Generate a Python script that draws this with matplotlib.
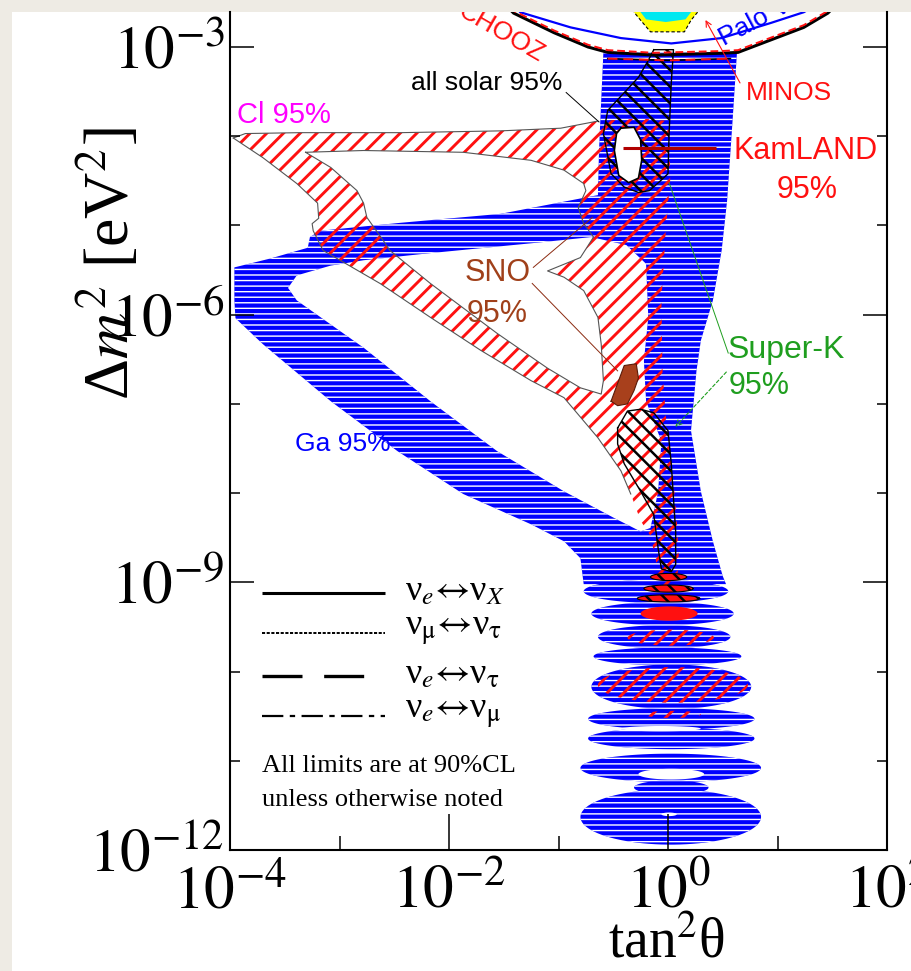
import numpy as np
import matplotlib
matplotlib.use('Agg')
import matplotlib.pyplot as plt
from matplotlib.path import Path
from matplotlib.patches import PathPatch, Rectangle
from matplotlib.ticker import FixedLocator, NullFormatter, FuncFormatter

plt.rcParams['font.family'] = ['Liberation Serif', 'DejaVu Serif']
plt.rcParams['mathtext.fontset'] = 'stix'
plt.rcParams['hatch.linewidth'] = 1.2

# ---------------- data: log10(tan^2 theta), log10(dm^2 / eV^2) ----------------
# Ga 95% (outer contour and inner hole)
ga_out_lt = [-0.59, 0.63, 0.59, 0.54, 0.49, 0.41, 0.30, 0.26, 0.21, 0.30, 0.41, 0.50, 0.53,
             -0.77, -0.80, -0.95, -1.25, -1.87, -2.47, -3.08, -3.70, -3.95, -3.96, -3.96,
             -3.63, -3.29, -3.27, -3.18, -2.44, -1.53, -0.64, -0.63, -0.61]
ga_out_ldm = [-3.06, -3.06, -3.82, -4.72, -5.28, -5.84, -6.29, -6.63, -7.30, -7.98, -8.54, -8.93, -9.02,
              -9.02, -8.73, -8.54, -8.35, -8.01, -7.53, -6.97, -6.33, -6.04, -5.84, -5.47,
              -5.37, -5.25, -5.13, -5.06, -4.97, -4.87, -4.66, -4.16, -3.60]
ga_hole_lt = [-0.70, -1.25, -2.17, -2.78, -3.08, -3.39, -3.47, -3.39, -2.78, -2.17, -1.56, -0.95,
              -0.49, -0.25, -0.16, -0.09, -0.06, -0.20, -0.22, -0.18, -0.20, -0.38]
ga_hole_ldm = [-5.13, -5.20, -5.31, -5.39, -5.45, -5.56, -5.70, -5.84, -6.37, -6.97, -7.53, -7.98,
               -8.28, -8.43, -8.39, -7.98, -7.42, -6.97, -6.52, -6.03, -5.43, -5.22]
# Ga lobes at small dm^2
lobe_ldm = [-9.10, -9.35, -9.61, -9.83, -10.17, -10.53, -10.75, -11.08, -11.30, -11.63]
lobe_hh = [0.13, 0.13, 0.13, 0.10, 0.25, 0.12, 0.12, 0.16, 0.08, 0.31]
lobe_lo = [-0.77, -0.70, -0.64, -0.68, -0.70, -0.73, -0.73, -0.80, -0.31, -0.80]
lobe_hi = [0.55, 0.60, 0.57, 0.67, 0.76, 0.79, 0.79, 0.85, 0.37, 0.85]
gap_ldm = [-10.64, -11.15, -11.60]
gap_hh = [0.03, 0.06, 0.02]
gap_lo = [-0.43, -0.27, -0.06]
gap_hi = [0.30, 0.33, 0.08]

# Cl 95%
cl_out_lt = [-3.97, -3.86, -3.36, -2.44, -1.53, -0.98, -0.64, -0.25, 0.01, 0.02, -0.02, -0.06, -0.05,
             -0.01, 0.05, 0.08, 0.10, 0.07, -0.08, -0.11, -0.16, -0.25, -0.34, -0.43, -0.64, -0.95,
             -1.25, -1.71, -2.17, -2.63, -3.15, -3.24, -3.25, -3.19, -3.20, -3.39, -3.70]
cl_out_ldm = [-4.02, -3.97, -3.96, -3.96, -3.94, -3.91, -3.83, -3.80, -3.83, -4.49, -5.06, -5.84, -6.63,
              -7.30, -7.87, -8.31, -8.76, -9.10, -9.10, -8.76, -8.48, -8.31, -8.01, -7.75, -7.38, -6.93,
              -6.74, -6.40, -6.03, -5.65, -5.28, -5.06, -4.98, -4.92, -4.75, -4.53, -4.24]
cl_hole_lt = [-3.31, -2.78, -1.87, -1.25, -0.95, -0.77, -0.75, -0.82, -0.77, -0.68, -0.80, -1.10, -0.95,
              -0.77, -0.64, -0.61, -0.59, -0.61, -0.80, -1.10, -1.56, -2.17, -2.54, -2.60, -2.75, -2.78,
              -2.84, -3.08]
cl_hole_ldm = [-4.18, -4.16, -4.18, -4.27, -4.38, -4.53, -4.61, -4.80, -4.98, -5.13, -5.36, -5.51, -5.58,
               -5.73, -6.03, -6.33, -6.74, -6.89, -6.82, -6.60, -6.21, -5.65, -5.28, -5.17, -4.91, -4.75,
               -4.61, -4.35]
red_ldm = [-9.62, -10.15, -10.48]
red_hh = [0.09, 0.20, 0.04]
red_lo = [-0.37, -0.64, -0.22]
red_hi = [0.42, 0.73, 0.30]
redfill_ldm = [-9.35]
redfill_hh = [0.08]
redfill_lo = [-0.25]
redfill_hi = [0.27]

# all solar 95%
sol_up_lt = [-0.13, 0.05, 0.03, 0.01, 0.00, -0.06, -0.17, -0.27, -0.40, -0.52, -0.59, -0.55, -0.27, -0.18]
sol_up_ldm = [-3.03, -3.03, -3.40, -3.97, -4.42, -4.49, -4.61, -4.63, -4.57, -4.42, -3.97, -3.71, -3.34, -3.15]
sol_lo_lt = [-0.46, -0.37, -0.25, -0.13, 0.00, 0.03, 0.05, 0.07, 0.07, 0.03, -0.06, -0.09, -0.13, -0.25,
             -0.40, -0.46]
sol_lo_ldm = [-7.27, -7.08, -7.06, -7.10, -7.30, -7.67, -8.06, -8.43, -8.80, -8.88, -8.85, -8.62, -8.24,
              -7.98, -7.67, -7.45]
sol_blob_ldm = [-8.94, -9.07, -9.18]
sol_blob_hh = [0.04, 0.04, 0.04]
sol_blob_lo = [-0.16, -0.22, -0.28]
sol_blob_hi = [0.17, 0.23, 0.29]
oval_lt = [-0.43, -0.31, -0.25, -0.24, -0.27, -0.36, -0.45, -0.49, -0.47]
oval_ldm = [-3.91, -3.90, -4.04, -4.27, -4.47, -4.52, -4.44, -4.16, -3.97]

# SNO 95%
sno_lt = [-0.52, -0.40, -0.29, -0.27, -0.31, -0.37, -0.46]
sno_ldm = [-6.97, -6.57, -6.55, -6.71, -6.85, -7.00, -7.02]

# KamLAND best-fit stroke
kam_lt = [-0.41, 0.44]
kam_ldm = [-4.13, -4.13]

# reactor / accelerator limits
chooz_lt = [-1.53, -1.41, -1.04, -0.73, -0.55, -0.13, 0.49, 0.64, 0.94, 1.24, 1.46, 1.58]
chooz_ldm = [-2.47, -2.62, -2.84, -3.00, -3.06, -3.09, -3.07, -3.06, -2.92, -2.78, -2.62, -2.47]
palo_lt = [-1.44, -1.35, -0.89, -0.43, 0.03, 0.49, 0.94, 1.24, 1.35]
palo_ldm = [-2.47, -2.61, -2.78, -2.90, -2.96, -2.90, -2.73, -2.61, -2.53]
minos_lt = [-0.55, 0.00, 0.57]
minos_ldm = [-3.13, -3.15, -3.13]
yel_lt = [-0.34, 0.30, 0.27, 0.21, 0.15, -0.16, -0.25, -0.31]
yel_ldm = [-2.47, -2.47, -2.61, -2.70, -2.83, -2.83, -2.70, -2.61]
cyan_lt = [-0.25, 0.21, 0.21, 0.16, -0.02, -0.20, -0.25]
cyan_ldm = [-2.47, -2.47, -2.61, -2.69, -2.72, -2.69, -2.61]

# label leader lines
solar_lead = ([-0.93, -0.63], [-3.51, -3.84])
sno_lead1 = ([-1.23, -0.69], [-5.47, -4.91])
sno_lead2 = ([-1.24, -0.46], [-5.65, -6.63])
superk_lead1 = ([0.55, 0.01], [-6.43, -4.52])
superk_arrow = ([0.55, 0.05], [-6.62, -7.28])
minos_arrow = ([0.67, 0.33], [-3.43, -2.67])

# legend
legend_labels = [r'ν$_e\!\leftrightarrow\!$ν$_X$',
                 r'ν$_{\mathrm{μ}}\!\leftrightarrow\!$ν$_{\mathrm{τ}}$',
                 r'ν$_e\!\leftrightarrow\!$ν$_{\mathrm{τ}}$',
                 r'ν$_e\!\leftrightarrow\!$ν$_{\mathrm{μ}}$']
x_ticks = [1e-4, 1e-2, 1e0, 1e2]
y_ticks = [1e-12, 1e-9, 1e-6, 1e-3]

# ---------------- helpers ----------------
def area(lt, ld):
    return 0.5 * np.sum(lt * np.roll(ld, -1) - np.roll(lt, -1) * ld)

def make_path(rings):
    verts, codes = [], []
    for i, (lt, ld) in enumerate(rings):
        lt = np.asarray(lt, float)
        ld = np.asarray(ld, float)
        if (i == 0) != (area(lt, ld) > 0):
            lt, ld = lt[::-1], ld[::-1]
        pts = np.column_stack((10 ** lt, 10 ** ld))
        verts.extend(pts)
        verts.append(pts[0])
        codes.extend([Path.MOVETO] + [Path.LINETO] * (len(pts) - 1) + [Path.CLOSEPOLY])
    return Path(np.array(verts), codes)

def ellipse(c, hh, lo, hi, n=90):
    t = np.linspace(0, 2 * np.pi, n, endpoint=False)
    return (lo + hi) / 2 + (hi - lo) / 2 * np.cos(t), c + hh * np.sin(t)

def region(rings, face, hcol, hatch, hlw, z):
    with plt.rc_context({'hatch.linewidth': hlw}):
        p = PathPatch(make_path(rings), facecolor=face, edgecolor=hcol, hatch=hatch, lw=0, zorder=z)
        if hasattr(p, 'set_hatch_linewidth'):
            p.set_hatch_linewidth(hlw)
    ax.add_patch(p)
    return p

def line(lt, ld, **kw):
    ax.plot(10 ** np.asarray(lt), 10 ** np.asarray(ld), **kw)

# ---------------- figure ----------------
fig = plt.figure(figsize=(9.12, 9.71), dpi=100, facecolor='#eeebe4')
fig.add_artist(Rectangle((12 / 912, 0), 1, (971 - 12) / 971, transform=fig.transFigure,
                         facecolor='white', edgecolor='none', zorder=-5))
ax = fig.add_axes([230 / 912, (971 - 850) / 971, (887 - 230) / 912, (850 - 12) / 971])
ax.set_xscale('log')
ax.set_yscale('log')
ax.set_xlim(1e-4, 1e2)
ax.set_ylim(1e-12, 10 ** (-3 + 35 / 89.2))
ax.set_facecolor('white')

BLUE = '#0000ff'
RED = '#ff1010'

# Ga
region([(ga_out_lt, ga_out_ldm), (ga_hole_lt, ga_hole_ldm)], BLUE, 'white', '---', 1.0, 1)
for c, h, lo, hi in zip(lobe_ldm, lobe_hh, lobe_lo, lobe_hi):
    region([ellipse(c, h, lo, hi)], BLUE, 'white', '---', 1.0, 1)
for c, h, lo, hi in zip(gap_ldm, gap_hh, gap_lo, gap_hi):
    region([ellipse(c, h, lo, hi)], 'white', 'white', None, 1.0, 1.2)

# Cl
region([(cl_out_lt, cl_out_ldm), (cl_hole_lt, cl_hole_ldm)], 'none', RED, '//', 2.1, 2)
line(cl_out_lt[:7], cl_out_ldm[:7], color='#555555', lw=0.8, zorder=2.1)
line(cl_out_lt[22:] + cl_out_lt[:1], cl_out_ldm[22:] + cl_out_ldm[:1], color='#555555', lw=0.8, zorder=2.1)
line(cl_hole_lt + cl_hole_lt[:1], cl_hole_ldm + cl_hole_ldm[:1], color='#555555', lw=0.8, zorder=2.1)
for c, h, lo, hi in zip(red_ldm, red_hh, red_lo, red_hi):
    region([ellipse(c, h, lo, hi)], 'none', RED, '//', 2.1, 2.2)
for c, h, lo, hi in zip(redfill_ldm, redfill_hh, redfill_lo, redfill_hi):
    region([ellipse(c, h, lo, hi)], RED, RED, None, 1.0, 2.3)

# all solar
for lt, ld in [(sol_up_lt, sol_up_ldm), (sol_lo_lt, sol_lo_ldm)]:
    region([(lt, ld)], 'none', 'black', '\\\\', 1.8, 3)
    line(list(lt) + [lt[0]], list(ld) + [ld[0]], color='black', lw=1.0, zorder=3.1)
for c, h, lo, hi in zip(sol_blob_ldm, sol_blob_hh, sol_blob_lo, sol_blob_hi):
    e = ellipse(c, h, lo, hi)
    region([e], RED, 'black', '\\\\', 1.8, 3)
    line(np.append(e[0], e[0][0]), np.append(e[1], e[1][0]), color='black', lw=0.8, zorder=3.1)
region([(oval_lt, oval_ldm)], 'white', 'white', None, 1.0, 3.5)
line(oval_lt + oval_lt[:1], oval_ldm + oval_ldm[:1], color='black', lw=1.2, zorder=3.6)

# SNO
region([(sno_lt, sno_ldm)], '#a8401c', '#a8401c', None, 1.0, 4)
line(sno_lt + sno_lt[:1], sno_ldm + sno_ldm[:1], color='#5a1a08', lw=0.8, zorder=4.1)

# KamLAND
line(kam_lt, kam_ldm, color='#b00000', lw=2.2, solid_capstyle='butt', zorder=4.2)

# top: reactor / accelerator
region([(yel_lt, yel_ldm)], '#ffff00', '#ffff00', None, 1.0, 4)
line(yel_lt[2:] + yel_lt[:1], yel_ldm[2:] + yel_ldm[:1], color='black', lw=0.8, ls=(0, (3, 2)), zorder=4.05)
region([(cyan_lt, cyan_ldm)], '#00e8f0', '#00e8f0', None, 1.0, 4.1)
line(palo_lt, palo_ldm, color=BLUE, lw=1.6, zorder=4.2)
line(chooz_lt, chooz_ldm, color='black', lw=2.2, zorder=4.3)
line(chooz_lt, np.asarray(chooz_ldm) + 0.025, color=RED, lw=1.4, ls=(0, (4, 2)), zorder=4.4)
line(minos_lt, minos_ldm, color='black', lw=1.2, zorder=4.3)
line(minos_lt, minos_ldm, color=RED, lw=1.4, ls=(0, (5, 3)), zorder=4.4)

# leader lines
line(*solar_lead, color='black', lw=0.7, zorder=5)
line(*sno_lead1, color='#8b2a10', lw=0.7, zorder=5)
line(*sno_lead2, color='#8b2a10', lw=0.7, zorder=5)
line(*superk_lead1, color='#1f9e1f', lw=0.7, zorder=5)
ax.annotate('', xy=(10 ** superk_arrow[0][1], 10 ** superk_arrow[1][1]),
            xytext=(10 ** superk_arrow[0][0], 10 ** superk_arrow[1][0]),
            arrowprops=dict(arrowstyle='->', color='#1f9e1f', lw=0.8, ls=(0, (3, 2))), zorder=5)
ax.annotate('', xy=(10 ** minos_arrow[0][1], 10 ** minos_arrow[1][1]),
            xytext=(10 ** minos_arrow[0][0], 10 ** minos_arrow[1][0]),
            arrowprops=dict(arrowstyle='->', color=RED, lw=0.8), zorder=5)

# labels inside the plot
SANS = ['Liberation Sans', 'DejaVu Sans']
def lab(lt, ld, s, color, size, **kw):
    kw.setdefault('ha', 'left')
    kw.setdefault('va', 'center')
    ax.text(10 ** lt, 10 ** ld, s, color=color, fontsize=size, family=SANS, zorder=6, **kw)

lab(-1.52, -2.84, 'CHOOZ', RED, 19, rotation=-30, ha='center', clip_on=True)
lab(0.43, -2.98, 'Palo Verde', BLUE, 19, rotation=28, va='baseline', clip_on=True)
lab(0.71, -3.51, 'MINOS', RED, 19)
lab(-2.35, -3.40, 'all solar 95%', 'black', 19)
lab(-3.94, -3.76, 'Cl 95%', '#ff00ff', 21)
lab(0.60, -4.16, 'KamLAND', RED, 22)
lab(1.27, -4.60, '95%', RED, 22, ha='center')
lab(-1.56, -5.53, 'SNO', '#a0401a', 22, ha='center')
lab(-1.56, -5.99, '95%', '#a0401a', 22, ha='center')
lab(0.54, -6.40, 'Super-K', '#1f9e1f', 23)
lab(0.55, -6.80, '95%', '#1f9e1f', 22)
lab(-3.41, -7.45, 'Ga 95%', BLUE, 19)

# legend (axes fraction)
styles = [dict(ls='-', lw=2.2), dict(ls=(0, (1.6, 0.8)), lw=1.4),
          dict(ls=(0, (12, 6.5)), lw=2.4), dict(ls=(0, (9.6, 2.9, 2.4, 2.9)), lw=1.6)]
ys = [0.3067, 0.259, 0.2076, 0.160]
for y, st, txt in zip(ys, styles, legend_labels):
    ax.plot([0.0487, 0.236], [y, y], color='black', transform=ax.transAxes, zorder=6,
            solid_capstyle='butt', dash_capstyle='butt', **st)
    ax.text(0.266, y + 0.002, txt, transform=ax.transAxes, fontsize=26, va='center', ha='left', zorder=6)
ax.text(0.0487, 0.1002, 'All limits are at 90%CL', transform=ax.transAxes, fontsize=19,
        va='center', ha='left', zorder=6)
ax.text(0.0487, 0.0597, 'unless otherwise noted', transform=ax.transAxes, fontsize=19,
        va='center', ha='left', zorder=6)

# axes styling
ax.xaxis.set_major_locator(FixedLocator(x_ticks))
ax.xaxis.set_minor_locator(FixedLocator([1e-3, 1e-1, 1e1]))
ax.yaxis.set_major_locator(FixedLocator(y_ticks))
ax.yaxis.set_minor_locator(FixedLocator([1e-11, 1e-10, 1e-8, 1e-7, 1e-5, 1e-4]))
fmt = FuncFormatter(lambda v, p: r'$10^{%d}$' % int(round(np.log10(v))))
ax.xaxis.set_major_formatter(fmt)
ax.yaxis.set_major_formatter(fmt)
ax.xaxis.set_minor_formatter(NullFormatter())
ax.yaxis.set_minor_formatter(NullFormatter())
ax.tick_params(axis='both', which='both', direction='in', width=1.1, color='black')
ax.tick_params(axis='y', which='major', length=17, left=True, right=True, labelsize=44, pad=4)
ax.tick_params(axis='y', which='minor', length=7, left=True, right=True)
ax.tick_params(axis='x', which='major', length=26, top=False, labelsize=44, pad=11)
ax.tick_params(axis='x', which='minor', length=10, top=False)
ax.spines['top'].set_visible(False)
for s in ['left', 'right', 'bottom']:
    ax.spines[s].set_linewidth(1.5)
    ax.spines[s].set_zorder(10)
ax.xaxis.set_zorder(10)
ax.yaxis.set_zorder(10)

ax.set_xlabel('tan$^2$θ', fontsize=40)
ax.xaxis.set_label_coords(0.664, -0.08)
ax.set_ylabel('Δ$m^2$ [eV$^2$]', fontsize=46, va='center')
ax.yaxis.set_label_coords(-0.183, 0.70)

fig.savefig('out.png', dpi=100, facecolor=fig.get_facecolor())
